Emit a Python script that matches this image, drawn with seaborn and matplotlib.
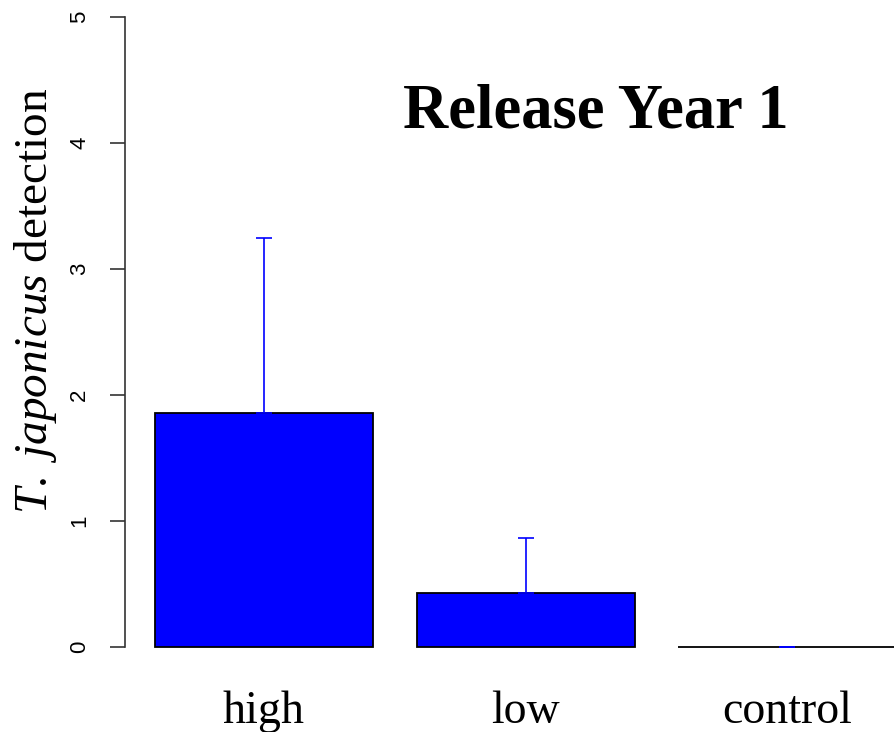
import matplotlib
matplotlib.use("Agg")
import matplotlib.pyplot as plt
import seaborn as sns
import pandas as pd
import numpy as np

categories = ["high", "low", "control"]
means = [1.86, 0.43, 0.0]
err_upper = [1.39, 0.435, 0.0]
yticks = [0, 1, 2, 3, 4, 5]
title = "Release Year 1"

sns.set_theme(style="white")
plt.rcParams["font.family"] = ["Liberation Serif", "DejaVu Serif"]
plt.rcParams["mathtext.fontset"] = "custom"
plt.rcParams["mathtext.rm"] = "Liberation Serif"
plt.rcParams["mathtext.it"] = "Liberation Serif:italic"
plt.rcParams["text.color"] = "black"
plt.rcParams["axes.labelcolor"] = "black"
plt.rcParams["xtick.color"] = "black"
plt.rcParams["ytick.color"] = "black"

df = pd.DataFrame({"group": categories, "value": means})

fig = plt.figure(figsize=(8.95, 7.32), dpi=100)
ax = fig.add_axes([125/895, 0.0989, 770/895, 0.895])

sns.barplot(data=df, x="group", y="value", order=categories, color="#0000FF",
            saturation=1, width=1/1.2, edgecolor="black", linewidth=1.3,
            errorbar=None, ax=ax)
ax.errorbar(np.arange(len(categories)), means, yerr=[np.zeros(len(means)), err_upper],
            fmt="none", ecolor="#0000FF", elinewidth=1.2, capsize=5.8, capthick=1.2)

ax.set_xlim(-0.531, 2.412)
ax.set_ylim(-0.1, 5.1)
ax.tick_params(axis="y", length=11, width=1.2, color="#333333", pad=14, left=True,
               labelsize=16, labelcolor="black", labelrotation=90)
ax.tick_params(axis="x", length=0, pad=22, labelsize=33, labelcolor="black")
ax.set_yticks(yticks)
ax.set_yticklabels([str(t) for t in yticks])
for lab in ax.get_yticklabels():
    lab.set_fontfamily("Liberation Sans")
    lab.set_fontsize(16)
    lab.set_verticalalignment("center")
ax.set_xlabel("")
ax.set_ylabel(r"$\mathit{T.\ japonicus}$ detection", fontsize=34, color="black")
ax.yaxis.set_label_coords(-0.086, 0.547)

for s in ["top", "right", "bottom"]:
    ax.spines[s].set_visible(False)
ax.spines["left"].set_bounds(0, 5)
ax.spines["left"].set_color("#333333")
ax.spines["left"].set_linewidth(1.2)

fig.text(596/895, 1 - 127/732, title, fontsize=45, fontweight="bold",
         ha="center", va="baseline", color="black")

fig.savefig("out.png", dpi=100)
